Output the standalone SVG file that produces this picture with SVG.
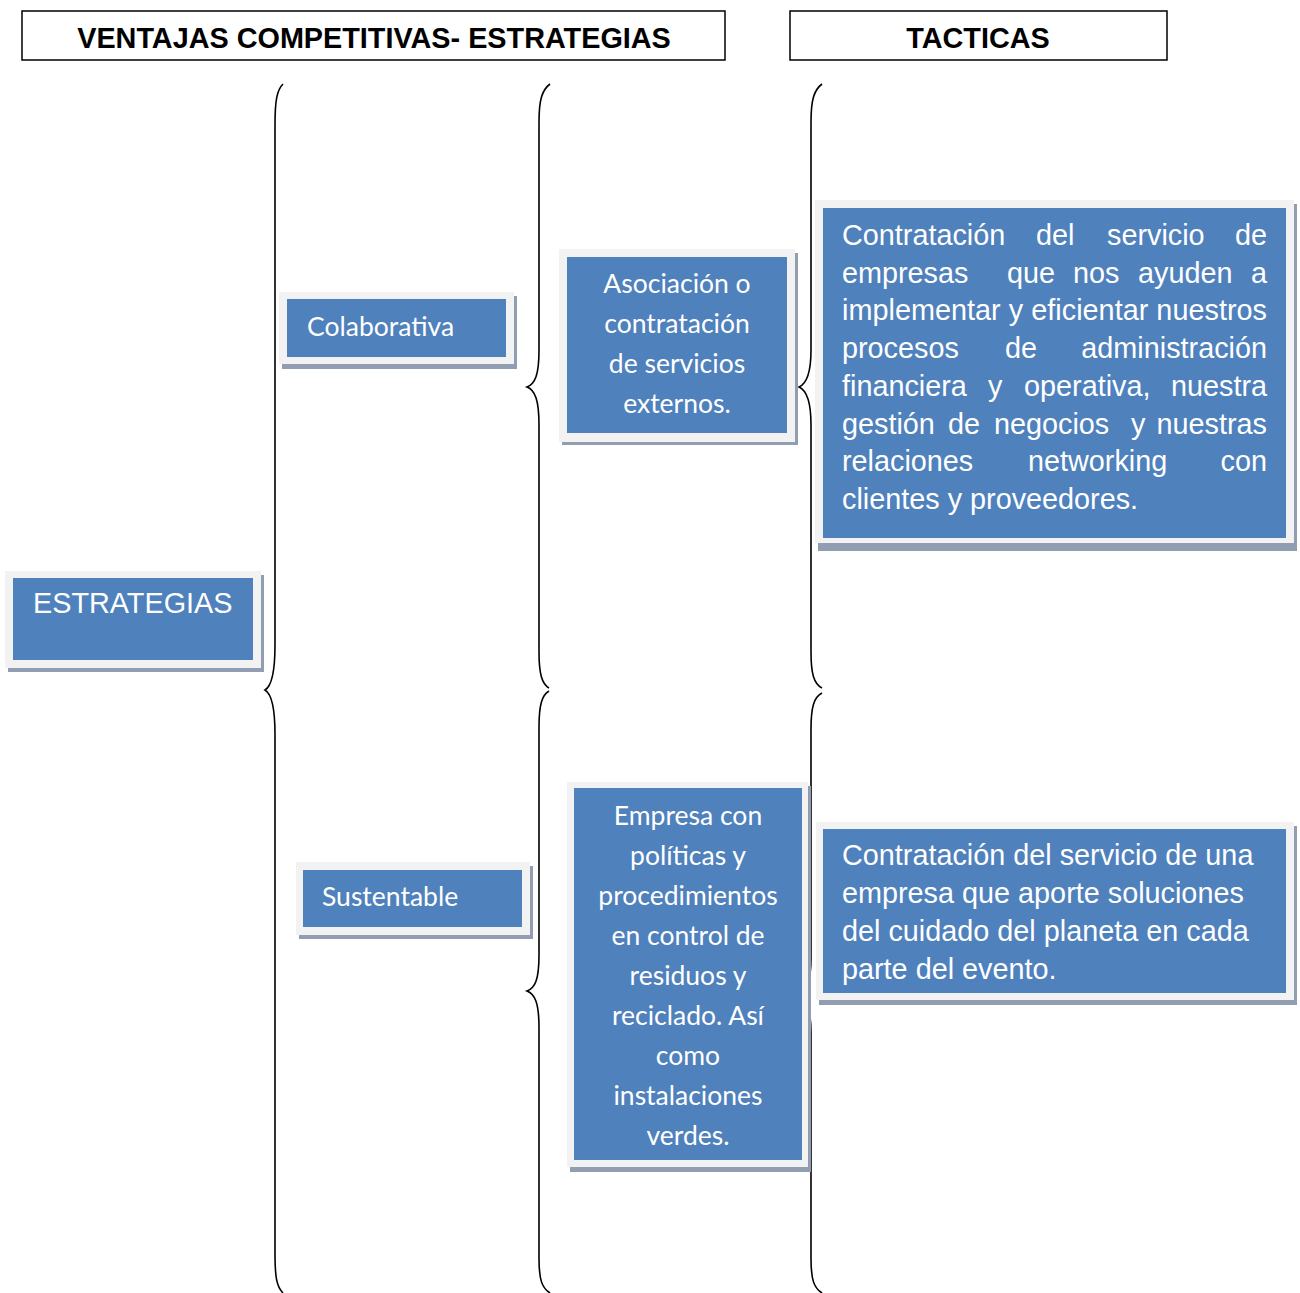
<svg xmlns="http://www.w3.org/2000/svg" width="1300" height="1293" viewBox="0 0 1300 1293">
<style>
.hdr{fill:#fff;stroke:#000;stroke-width:1.5}
.ht{font-family:"Liberation Sans",Arial,sans-serif;font-weight:bold;font-size:28.8px;fill:#000;text-anchor:middle}
.sh{fill:#919eb1}
.fr{fill:#f2f2f2}
.bl{fill:#4f81bd}
.ta{font-family:"Liberation Sans",Arial,sans-serif;font-size:28.8px;fill:#fff}
.tc{font-family:Lato,"Open Sans",sans-serif;font-size:26.5px;fill:#fff}
.mid{text-anchor:middle}
.end{text-anchor:end}
.br{fill:none;stroke:#000;stroke-width:1.6}
</style>
<rect width="1300" height="1293" fill="#fff"/>
<g id="header-estrategias">
<rect class="hdr" x="22" y="11" width="703" height="49"/>
<text class="ht" x="374" y="48">VENTAJAS COMPETITIVAS- ESTRATEGIAS</text>
</g>
<g id="header-tacticas">
<rect class="hdr" x="790" y="11" width="377" height="49"/>
<text class="ht" x="978" y="48">TACTICAS</text>
</g>
<g id="connectors">
<path class="br" d="M283,84 C277,90 275,100 275,125 L275,645 C275,672 272,686 265,690 C272,694 275,708 275,735 L275,1255 C275,1278 277,1287 283,1293"/>
<path class="br" d="M550,84 C542,90 539,100 539,122 L539,350 C539,375 535,384 527,387 C535,390 539,400 539,425 L539,652 C539,674 542,684 549,688"/>
<path class="br" d="M549,691 C542,695 539,705 539,727 L539,955 C539,980 535,988 527,991 C535,994 539,1003 539,1028 L539,1258 C539,1280 542,1288 550,1293"/>
<path class="br" d="M822,84 C814,90 811,100 811,122 L811,350 C811,375 806,384 799,387 C806,390 811,400 811,425 L811,652 C811,674 814,684 822,688"/>
<path class="br" d="M822,693 C814,697 811,707 811,729 L811,958 C811,983 806,992 799,995 C806,998 811,1008 811,1033 L811,1258 C811,1280 814,1288 822,1293"/>
</g>
<g id="node-estrategias">
<rect class="sh" x="8" y="575" width="256" height="97"/>
<rect class="fr" x="5" y="571" width="256" height="97"/>
<rect class="bl" x="13" y="578" width="240" height="82"/>
<text class="ta" x="33" y="613">ESTRATEGIAS</text>
</g>
<g id="node-colaborativa">
<rect class="sh" x="282" y="296" width="235" height="73"/>
<rect class="fr" x="279" y="292" width="235" height="72"/>
<rect class="bl" x="287" y="299" width="219" height="58"/>
<text class="tc" x="307" y="336">Colaborativa</text>
</g>
<g id="node-sustentable">
<rect class="sh" x="299" y="866" width="234" height="73"/>
<rect class="fr" x="296" y="862" width="234" height="73"/>
<rect class="bl" x="303" y="870" width="219" height="57"/>
<text class="tc" x="322" y="906">Sustentable</text>
</g>
<g id="node-asociacion">
<rect class="sh" x="562" y="253" width="236" height="192"/>
<rect class="fr" x="559" y="249" width="236" height="193"/>
<rect class="bl" x="567" y="257" width="220" height="176"/>
<text class="tc mid" x="677"><tspan x="677" y="293">Asociación o</tspan><tspan x="677" y="333">contratación</tspan><tspan x="677" y="373">de servicios</tspan><tspan x="677" y="413">externos.</tspan></text>
</g>
<g id="node-empresa">
<rect class="sh" x="570" y="786" width="241" height="386"/>
<rect class="fr" x="567" y="782" width="241" height="385"/>
<rect class="bl" x="574" y="788" width="228" height="372"/>
<text class="tc mid" x="688"><tspan x="688" y="825">Empresa con</tspan><tspan x="688" y="865">políticas y</tspan><tspan x="688" y="905">procedimientos</tspan><tspan x="688" y="945">en control de</tspan><tspan x="688" y="985">residuos y</tspan><tspan x="688" y="1025">reciclado. Así</tspan><tspan x="688" y="1065">como</tspan><tspan x="688" y="1105">instalaciones</tspan><tspan x="688" y="1145">verdes.</tspan></text>
</g>
<g id="node-tactica-1">
<rect class="sh" x="818" y="204" width="479" height="347"/>
<rect class="fr" x="815" y="200" width="479" height="343"/>
<rect class="bl" x="823" y="208" width="463" height="330"/>
<text class="ta"><tspan x="842" y="245">Contratación</tspan><tspan x="1036" y="245">del</tspan><tspan x="1107" y="245">servicio</tspan><tspan x="1267" y="245" text-anchor="end">de</tspan><tspan x="842" y="283">empresas</tspan><tspan x="1007" y="283">que</tspan><tspan x="1073" y="283">nos</tspan><tspan x="1138" y="283">ayuden</tspan><tspan x="1267" y="283" text-anchor="end">a</tspan><tspan x="842" y="320" textLength="425" lengthAdjust="spacing">implementar y eficientar nuestros</tspan><tspan x="842" y="358">procesos</tspan><tspan x="1005" y="358">de</tspan><tspan x="1267" y="358" text-anchor="end">administración</tspan><tspan x="842" y="396">financiera</tspan><tspan x="988" y="396">y</tspan><tspan x="1024" y="396">operativa,</tspan><tspan x="1267" y="396" text-anchor="end">nuestra</tspan><tspan x="842" y="434">gestión</tspan><tspan x="948" y="434">de</tspan><tspan x="994" y="434">negocios</tspan><tspan x="1131" y="434">y</tspan><tspan x="1267" y="434" text-anchor="end">nuestras</tspan><tspan x="842" y="471">relaciones</tspan><tspan x="1028" y="471">networking</tspan><tspan x="1267" y="471" text-anchor="end">con</tspan><tspan x="842" y="509">clientes y proveedores.</tspan></text>
</g>
<g id="node-tactica-2">
<rect class="sh" x="819" y="826" width="478" height="179"/>
<rect class="fr" x="816" y="822" width="478" height="178"/>
<rect class="bl" x="823" y="829" width="463" height="164"/>
<text class="ta"><tspan x="842" y="865">Contratación del servicio de una</tspan><tspan x="842" y="903">empresa que aporte soluciones</tspan><tspan x="842" y="941">del cuidado del planeta en cada</tspan><tspan x="842" y="979">parte del evento.</tspan></text>
</g>
</svg>
